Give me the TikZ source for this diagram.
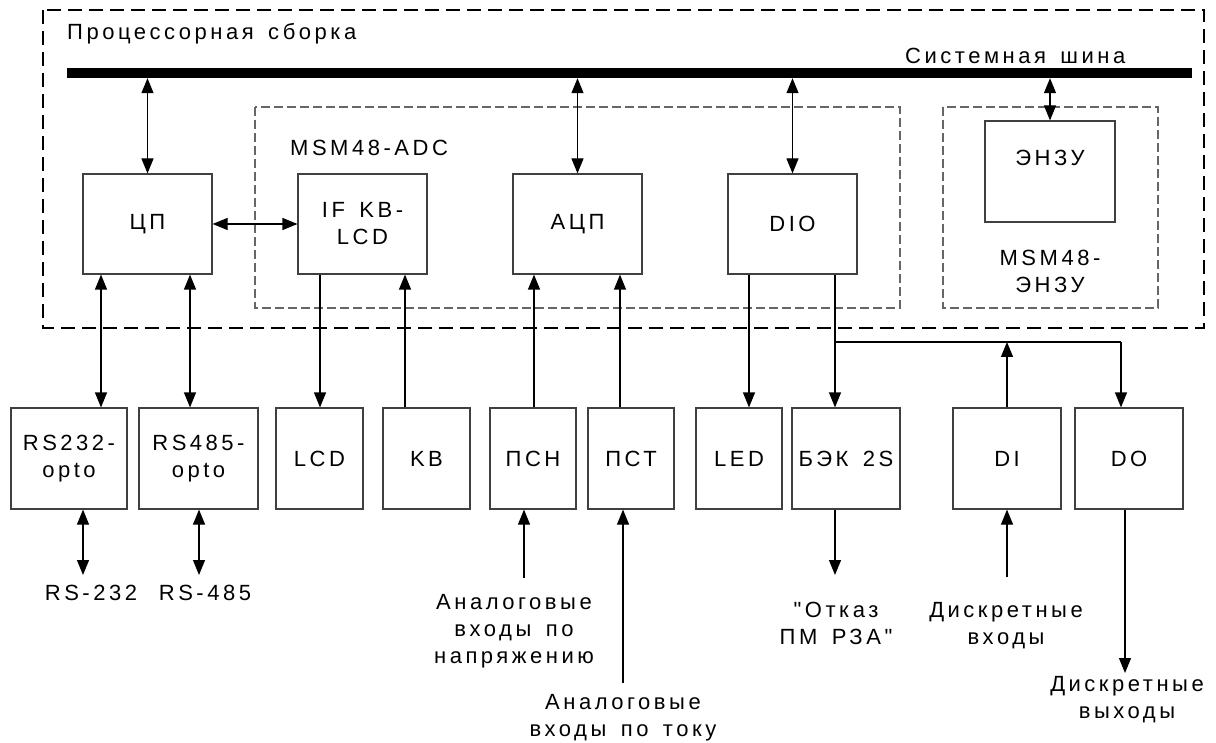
\documentclass[tikz,border=0pt]{standalone}
\usepackage{fontspec}
\newfontfamily\lblfam{Liberation Sans}[LetterSpace=16,WordSpace=1.5]
\newcommand\lblfont{\lblfam\fontsize{22}{27}\selectfont}
\usetikzlibrary{arrows.meta}
\tikzset{
  every node/.style={font=\lblfont},
  >={Triangle[length=15pt,width=12pt]},
  blk/.style={draw=black!75, line width=1.2pt, inner sep=0pt, align=center},
  conn/.style={line width=1.2pt, draw=black},
  txt/.style={inner sep=0pt, align=center},
  outerbox/.style={draw=black, line width=2pt, dash pattern=on 14pt off 7pt},
  innerbox/.style={draw=black!60, line width=1.2pt, dash pattern=on 9pt off 4pt},
}
\begin{document}
\begin{tikzpicture}[x=1pt,y=-1pt]
\useasboundingbox (0,0) rectangle (1216,743);
% frames
\draw[outerbox] (43,10) rectangle (1204,328);
\draw[innerbox] (255,107) rectangle (900,308);
\draw[innerbox] (943,107) rectangle (1158,308);
\node[txt, anchor=base west] (ttl) at (67,40) {Процессорная сборка};
\node[txt, anchor=base west] (busl) at (905,64) {Системная шина};
\node[txt, anchor=base west] (adcl) at (290,156) {MSM48-ADC};
\node[txt] (enzl) at (1050,271) {MSM48-\\ЭНЗУ};
% bus
\node[fill=black, inner sep=0pt, minimum width=1125pt, minimum height=10pt] (bus) at (629.5,73) {};
% upper blocks
\node[blk, minimum width=129pt, minimum height=100pt] (cp) at (147.5,224) {ЦП};
\node[blk, minimum width=129pt, minimum height=100pt] (ifkb) at (362.5,224) {IF KB-\\LCD};
\node[blk, minimum width=129pt, minimum height=100pt] (adc) at (577.5,224) {АЦП};
\node[blk, minimum width=129pt, minimum height=100pt] (dio) at (792.5,224) {DIO};
\node[blk, minimum width=130pt, minimum height=101pt, label={[txt, yshift=13.5pt]center:ЭНЗУ}] (enzu) at (1050,171.5) {};
% lower blocks
\node[blk, minimum width=116pt, minimum height=101pt] (rs232) at (69,458.5) {RS232-\\opto};
\node[blk, minimum width=119pt, minimum height=101pt] (rs485) at (198.5,458.5) {RS485-\\opto};
\node[blk, minimum width=87pt, minimum height=101pt] (lcd) at (319.5,458.5) {LCD};
\node[blk, minimum width=87pt, minimum height=101pt] (kb) at (426.5,458.5) {KB};
\node[blk, minimum width=86pt, minimum height=101pt] (psn) at (533,458.5) {ПСН};
\node[blk, minimum width=86pt, minimum height=101pt] (pst) at (631,458.5) {ПСТ};
\node[blk, minimum width=86pt, minimum height=101pt] (led) at (739,458.5) {LED};
\node[blk, minimum width=108pt, minimum height=101pt] (bek) at (846,458.5) {БЭК 2S};
\node[blk, minimum width=108pt, minimum height=101pt] (di) at (1007,458.5) {DI};
\node[blk, minimum width=108pt, minimum height=101pt] (do) at (1129,458.5) {DO};
% bottom labels
\node[txt] (l232) at (91,593) {RS-232};
\node[txt] (l485) at (205,593) {RS-485};
\node[txt] (lav) at (514,631) {Аналоговые\\входы по\\напряжению};
\node[txt] (lai) at (623,718) {Аналоговые\\входы по току};
\node[txt] (lotk) at (836,623) {"Отказ\\ПМ РЗА"};
\node[txt] (ldi) at (1006,626) {Дискретные\\входы};
\node[txt] (ldo) at (1127,700) {Дискретные\\выходы};
% x positions
\coordinate (xa) at (101,0);
\coordinate (xb) at (190,0);
\coordinate (xc) at (320,0);
\coordinate (xd) at (405,0);
\coordinate (xe) at (534,0);
\coordinate (xf) at (620,0);
\coordinate (xg) at (749,0);
\coordinate (xh) at (835,0);
\coordinate (xj) at (1125,0);
\coordinate (xk) at (83,0);
\coordinate (xl) at (199,0);
\coordinate (xm) at (524,0);
\coordinate (xn) at (623,0);
% free ends
\coordinate (e232) at (83,575);
\coordinate (e485) at (199,575);
\coordinate (eav) at (524,578);
\coordinate (eai) at (623,683);
\coordinate (eotk) at (835,575);
\coordinate (edi) at (1007,577);
\coordinate (edo) at (1125,673);
\coordinate (br1) at (835,342);
\coordinate (br2) at (1121,342);
% bus links
\draw[conn,<->] (bus.south -| cp) -- (cp.north);
\draw[conn,<->] (bus.south -| adc) -- (adc.north);
\draw[conn,<->] (bus.south -| dio) -- (dio.north);
\draw[conn,<->] (bus.south -| enzu) -- (enzu.north);
\draw[conn,<->] (cp.east) -- (ifkb.west);
% links to lower blocks
\draw[conn,<->] (cp.south -| xa) -- (rs232.north -| xa);
\draw[conn,<->] (cp.south -| xb) -- (rs485.north -| xb);
\draw[conn,->] (ifkb.south -| xc) -- (lcd.north -| xc);
\draw[conn,->] (kb.north -| xd) -- (ifkb.south -| xd);
\draw[conn,->] (psn.north -| xe) -- (adc.south -| xe);
\draw[conn,->] (pst.north -| xf) -- (adc.south -| xf);
\draw[conn,->] (dio.south -| xg) -- (led.north -| xg);
\draw[conn,->] (dio.south -| xh) -- (bek.north -| xh);
\draw[conn] (br1) -- (br2);
\draw[conn,->] (di.north) -- (di.north |- br1);
\draw[conn,->] (br2) -- (do.north -| br2);
% external links
\draw[conn,<->] (rs232.south -| xk) -- (e232);
\draw[conn,<->] (rs485.south -| xl) -- (e485);
\draw[conn,->] (eav) -- (psn.south -| xm);
\draw[conn,->] (eai) -- (pst.south -| xn);
\draw[conn,->] (bek.south -| xh) -- (eotk);
\draw[conn,->] (edi) -- (di.south);
\draw[conn,->] (do.south -| xj) -- (edo);
\end{tikzpicture}
\end{document}
